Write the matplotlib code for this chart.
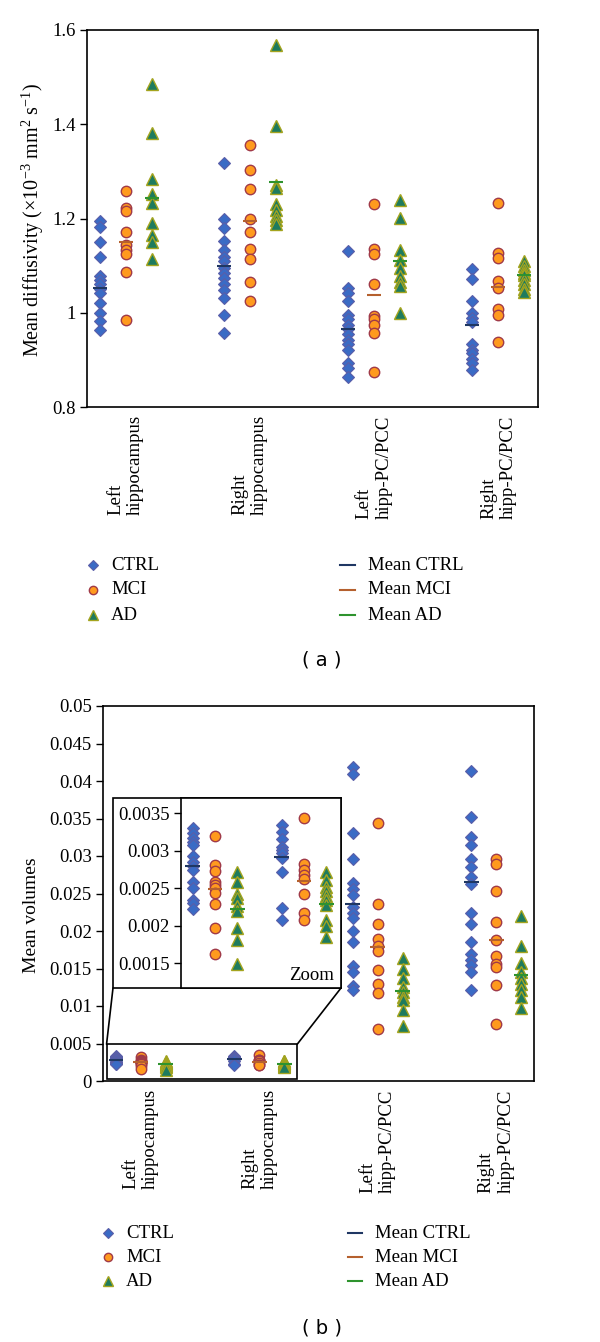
import matplotlib
matplotlib.use("Agg")
import matplotlib.pyplot as plt
from matplotlib.lines import Line2D
from matplotlib.patches import Rectangle, ConnectionPatch

# ---------------- data ----------------
categories = ["Left\nhippocampus", "Right\nhippocampus", "Left\nhipp-PC/PCC", "Right\nhipp-PC/PCC"]
groups = ["CTRL", "MCI", "AD"]

# (a) Mean diffusivity (x10^-3 mm^2 s^-1)
md_ctrl = [
    [1.194, 1.182, 1.151, 1.119, 1.078, 1.069, 1.060, 1.051, 1.041, 1.021, 1.000, 0.982, 0.963],
    [1.318, 1.200, 1.179, 1.153, 1.134, 1.119, 1.110, 1.095, 1.085, 1.074, 1.060, 1.048, 1.032, 0.996, 0.956],
    [1.132, 1.053, 1.042, 1.025, 0.996, 0.986, 0.975, 0.965, 0.954, 0.943, 0.933, 0.922, 0.894, 0.883, 0.864],
    [1.093, 1.072, 1.025, 1.000, 0.989, 0.980, 0.933, 0.922, 0.915, 0.901, 0.894, 0.878],
]
md_mci = [
    [1.259, 1.222, 1.216, 1.172, 1.143, 1.133, 1.124, 1.086, 0.984],
    [1.355, 1.302, 1.263, 1.198, 1.171, 1.136, 1.114, 1.066, 1.025],
    [1.230, 1.136, 1.125, 1.060, 0.994, 0.986, 0.975, 0.956, 0.874],
    [1.232, 1.127, 1.117, 1.067, 1.053, 1.007, 0.996, 0.938],
]
md_ad = [
    [1.486, 1.382, 1.283, 1.253, 1.233, 1.191, 1.164, 1.150, 1.114],
    [1.569, 1.397, 1.272, 1.265, 1.230, 1.218, 1.205, 1.196, 1.189],
    [1.240, 1.201, 1.133, 1.112, 1.095, 1.079, 1.065, 1.057, 1.000],
    [1.110, 1.100, 1.090, 1.085, 1.080, 1.070, 1.060, 1.050, 1.045],
]
md_mean_ctrl = [1.053, 1.099, 0.966, 0.975]
md_mean_mci = [1.150, 1.194, 1.038, 1.055]
md_mean_ad = [1.244, 1.277, 1.110, 1.080]

# (b) Mean volumes
vol_ctrl = [
    [0.003296, 0.00323, 0.003164, 0.003119, 0.003075, 0.002929, 0.002854, 0.002788,
     0.002743, 0.002588, 0.0025, 0.002345, 0.002301, 0.002221],
    [0.003341, 0.003252, 0.00315, 0.003053, 0.003009, 0.002965, 0.002898, 0.002721,
     0.002235, 0.002071],
    [0.0419, 0.0410, 0.0331, 0.0296, 0.0264, 0.0256, 0.0248, 0.0232, 0.0224, 0.0218,
     0.0200, 0.0186, 0.0153, 0.0146, 0.0127, 0.0121],
    [0.0413, 0.0352, 0.0326, 0.0315, 0.0296, 0.0285, 0.0272, 0.0263, 0.0224, 0.0210,
     0.0186, 0.0170, 0.0161, 0.0155, 0.0146, 0.0121],
]
vol_mci = [
    [0.003199, 0.00281, 0.00273, 0.002588, 0.002544, 0.0025, 0.002434, 0.002292, 0.001969, 0.001628],
    [0.00343, 0.00282, 0.00274, 0.00267, 0.00262, 0.00242, 0.00217, 0.00208],
    [0.0344, 0.0236, 0.0210, 0.0190, 0.0180, 0.0174, 0.0148, 0.0130, 0.0117, 0.0069],
    [0.0296, 0.0289, 0.0254, 0.0212, 0.0188, 0.0167, 0.0156, 0.0152, 0.0128, 0.0076],
]
vol_ad = [
    [0.002721, 0.002588, 0.002425, 0.002367, 0.002265, 0.00219, 0.001969, 0.001805, 0.001495],
    [0.002721, 0.00261, 0.002513, 0.002456, 0.002389, 0.002345, 0.002279, 0.002071, 0.002, 0.00185],
    [0.0164, 0.0150, 0.0137, 0.0126, 0.0119, 0.0112, 0.0108, 0.0095, 0.0073],
    [0.0220, 0.0180, 0.0158, 0.0145, 0.0138, 0.0130, 0.0122, 0.0112, 0.0098],
]
vol_mean_ctrl = [0.002796, 0.002912, 0.0236, 0.0266]
vol_mean_mci = [0.002487, 0.00259, 0.0179, 0.0188]
vol_mean_ad = [0.002226, 0.002292, 0.0120, 0.0141]

md_ticks = [0.8, 1.0, 1.2, 1.4, 1.6]
md_ticklabels = ["0.8", "1", "1.2", "1.4", "1.6"]
vol_ticks = [0, 0.005, 0.01, 0.015, 0.02, 0.025, 0.03, 0.035, 0.04, 0.045, 0.05]
vol_ticklabels = ["0", "0.005", "0.01", "0.015", "0.02", "0.025", "0.03", "0.035", "0.04", "0.045", "0.05"]
zoom_ticks = [0.0015, 0.002, 0.0025, 0.003, 0.0035]
zoom_ticklabels = ["0.0015", "0.002", "0.0025", "0.003", "0.0035"]

# ---------------- style ----------------
W, H = 600, 1342
plt.rcParams['font.family'] = ['Liberation Serif', 'DejaVu Serif']
plt.rcParams['mathtext.fontset'] = 'custom'
plt.rcParams['mathtext.rm'] = 'Liberation Serif'
plt.rcParams['mathtext.it'] = 'Liberation Serif:italic'
FS = 13.5

styles = {
    "CTRL": dict(marker='D', ms=6.5, mfc='#3A6BC5', mec='#5A5EA8', mew=0.8),
    "MCI": dict(marker='o', ms=7.5, mfc='#FF9A1E', mec='#A03A48', mew=1.0),
    "AD": dict(marker='^', ms=8.5, mfc='#1E7B5E', mec='#A4A41E', mew=1.0),
}
mean_colors = {"CTRL": '#1F3763', "MCI": '#B5602E', "AD": '#2E932E'}

def fx(px):
    return px / W

def fy(py):
    return 1 - py / H

def fig_axes(fig, x0, y0, x1, y1):
    return fig.add_axes([fx(x0), fy(y1), fx(x1) - fx(x0), fy(y0) - fy(y1)])

centers = [1, 2, 3, 4]

def draw(ax, data, means, cat_idx, offset, halfw):
    for gi, g in enumerate(groups):
        for ci in cat_idx:
            x = centers[ci] + (gi - 1) * offset
            vals = data[gi][ci]
            ax.plot([x] * len(vals), vals, ls='none', zorder=3, **styles[g])
    for gi, g in enumerate(groups):
        for ci in cat_idx:
            x = centers[ci] + (gi - 1) * offset
            m = means[gi][ci]
            ax.plot([x - halfw, x + halfw], [m, m], color=mean_colors[g], lw=1.5, zorder=4,
                    solid_capstyle='butt')

def style_axes(ax):
    for s in ax.spines.values():
        s.set_linewidth(1.2)
        s.set_color('black')
    ax.tick_params(axis='y', direction='out', length=5, width=1, labelsize=FS, pad=3)

def legend(fig, rows, xm, xt, xl0, xl1, xt2):
    for i, g in enumerate(groups):
        st = dict(styles[g])
        st['ms'] = st['ms'] * 0.8
        fig.add_artist(Line2D([fx(xm)], [fy(rows[i])], ls='none', transform=fig.transFigure, **st))
        fig.text(fx(xt), fy(rows[i]), g, fontsize=FS, va='center', ha='left')
        fig.add_artist(Line2D([fx(xl0), fx(xl1)], [fy(rows[i])] * 2, color=mean_colors[g], lw=1.5,
                              transform=fig.transFigure))
        fig.text(fx(xt2), fy(rows[i]), "Mean " + g, fontsize=FS, va='center', ha='left')

fig = plt.figure(figsize=(W / 100, H / 100), dpi=100)

# ---------------- panel (a) ----------------
ax1 = fig_axes(fig, 87, 30, 538, 407)
draw(ax1, [md_ctrl, md_mci, md_ad], [md_mean_ctrl, md_mean_mci, md_mean_ad], range(4), 0.21, 0.057)
ax1.set_xlim(0.688, 4.32)
ax1.set_ylim(0.8, 1.6)
ax1.set_yticks(md_ticks, md_ticklabels)
ax1.set_xticks(centers, categories, rotation=90, multialignment='left', fontsize=FS)
ax1.tick_params(axis='x', length=0, pad=6)
style_axes(ax1)
fig.text(fx(33), fy(220), r'Mean diffusivity ($\times$10$^{-3}$ mm$^{2}$ s$^{-1}$)',
         rotation=90, ha='center', va='center', fontsize=14.5)
legend(fig, [565, 590, 615], 93, 111, 340, 355, 368)
fig.text(fx(322), fy(660), "( a )", fontsize=14, ha='center', va='center', family='DejaVu Sans')

# ---------------- panel (b) ----------------
ax2 = fig_axes(fig, 103, 706, 534, 1081)
draw(ax2, [vol_ctrl, vol_mci, vol_ad], [vol_mean_ctrl, vol_mean_mci, vol_mean_ad], range(4), 0.21, 0.063)
ax2.set_xlim(0.68, 4.32)
ax2.set_ylim(0, 0.05)
ax2.set_yticks(vol_ticks, vol_ticklabels)
ax2.set_xticks(centers, categories, rotation=90, multialignment='left', fontsize=FS)
ax2.tick_params(axis='x', length=0, pad=6)
style_axes(ax2)
fig.text(fx(32), fy(915), 'Mean volumes', rotation=90, ha='center', va='center', fontsize=14)

# zoom rectangle in main axes
ax2.add_patch(Rectangle((0.71, 0.0003), 2.32 - 0.71, 0.0049 - 0.0003, fill=False,
                        ec='black', lw=1.2, zorder=5))

# inset box + inset axes
box = Rectangle((fx(113), fy(988)), fx(341) - fx(113), fy(798) - fy(988),
                transform=fig.transFigure, fc='white', ec='black', lw=1.2, zorder=10)
fig.add_artist(box)
for (xa, xb) in [(0.71, 113), (2.32, 341)]:
    cp = ConnectionPatch(xyA=(xa, 0.0049), coordsA=ax2.transData,
                         xyB=(fx(xb), fy(988)), coordsB=fig.transFigure,
                         color='black', lw=1.2)
    fig.add_artist(cp)

ax3 = fig_axes(fig, 181, 798, 341, 988)
ax3.set_zorder(11)
draw(ax3, [vol_ctrl, vol_mci, vol_ad], [vol_mean_ctrl, vol_mean_mci, vol_mean_ad], range(2), 0.25, 0.083)
ax3.set_xlim(0.618, 2.416)
ax3.set_ylim(0.00117, 0.0037)
ax3.set_yticks(zoom_ticks, zoom_ticklabels)
ax3.set_xticks([])
style_axes(ax3)
ax3.text(0.956, 0.068, "Zoom", transform=ax3.transAxes, ha='right', va='center', fontsize=FS)

legend(fig, [1233, 1257, 1281], 108, 126, 348, 362, 375)
fig.text(fx(322), fy(1328), "( b )", fontsize=14, ha='center', va='center', family='DejaVu Sans')

fig.savefig("out.png", dpi=100)
